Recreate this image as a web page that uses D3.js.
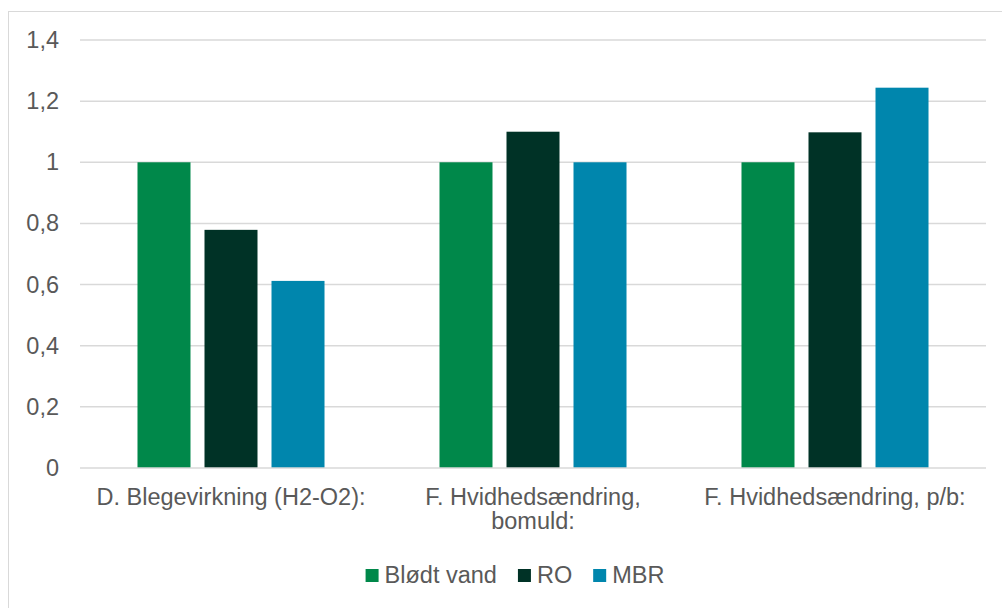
<!DOCTYPE html>
<html>
<head>
<meta charset="utf-8">
<script src="https://cdn.jsdelivr.net/npm/d3@7"></script>
<style>
  html, body { margin: 0; padding: 0; background: #fff; }
  svg { display: block; font-family: "Liberation Sans", Arial, sans-serif; }
</style>
</head>
<body>
<svg id="chart" width="1002" height="608"></svg>
<script>
// Category labels (each entry is an array of text lines)
const categories = [
  ["D. Blegevirkning (H2-O2):"],
  ["F. Hvidhedsændring,", "bomuld:"],
  ["F. Hvidhedsændring, p/b:"]
];
const seriesNames = ["Blødt vand", "RO", "MBR"];
const seriesColors = ["#00884A", "#003226", "#0086AD"];
const bloedtVand = [1, 1, 1];
const ro = [0.779, 1.1, 1.098];
const mbr = [0.612, 1, 1.244];
const yTicks = [0, 0.2, 0.4, 0.6, 0.8, 1, 1.2, 1.4];

const seriesValues = [bloedtVand, ro, mbr];

const svg = d3.select("#chart");
const W = 1002, H = 608;
const plot = { left: 80, right: 986, top: 40, bottom: 468 };
const textColor = "#595959";
const fontSize = "23.5px";

// Outer chart frame
svg.append("rect")
  .attr("x", 8.5).attr("y", 11.5)
  .attr("width", W + 10).attr("height", H + 10)
  .attr("fill", "#fff").attr("stroke", "#d9d9d9").attr("stroke-width", 1);

const x0 = d3.scaleBand()
  .domain(d3.range(categories.length))
  .range([plot.left, plot.right])
  .paddingInner(0).paddingOuter(0);

const x1 = d3.scaleBand()
  .domain(d3.range(seriesNames.length))
  .range([0, x0.bandwidth()])
  .paddingInner(0.209)
  .paddingOuter(0.858);

const y = d3.scaleLinear().domain([0, 1.4]).range([plot.bottom, plot.top]);
const fmt = v => d3.format("~g")(v).replace(".", ",");

// Horizontal gridlines
svg.append("g").selectAll("line")
  .data(yTicks.filter(t => t !== 0))
  .join("line")
  .attr("x1", plot.left).attr("x2", plot.right)
  .attr("y1", d => y(d)).attr("y2", d => y(d))
  .attr("stroke", "#d9d9d9").attr("stroke-width", 1.5);

// Y axis labels
const yAxis = svg.append("g")
  .attr("transform", `translate(${plot.left - 21},0)`)
  .call(d3.axisLeft(y).tickValues(yTicks).tickFormat(fmt).tickSize(0).tickPadding(0));
yAxis.select(".domain").remove();
yAxis.selectAll("text")
  .attr("fill", textColor)
  .style("font-size", fontSize)
  .style("font-family", "Liberation Sans, Arial, sans-serif");

// Bars
const groups = svg.append("g").selectAll("g")
  .data(categories.map((c, i) => i))
  .join("g")
  .attr("transform", i => `translate(${x0(i)},0)`);

groups.selectAll("rect")
  .data(i => seriesValues.map((s, k) => ({ k, v: s[i] })))
  .join("rect")
  .attr("x", d => x1(d.k))
  .attr("width", x1.bandwidth())
  .attr("y", d => y(d.v))
  .attr("height", d => y(0) - y(d.v))
  .attr("fill", d => seriesColors[d.k]);

// Baseline
svg.append("line")
  .attr("x1", plot.left).attr("x2", plot.right)
  .attr("y1", y(0)).attr("y2", y(0))
  .attr("stroke", "#d9d9d9").attr("stroke-width", 1.5);

// Category labels
const catLabels = svg.append("g").selectAll("text")
  .data(categories)
  .join("text")
  .attr("text-anchor", "middle")
  .attr("fill", textColor)
  .style("font-size", fontSize)
  .attr("x", (d, i) => x0(i) + x0.bandwidth() / 2)
  .attr("y", 505);
catLabels.selectAll("tspan")
  .data(d => d)
  .join("tspan")
  .attr("x", function () { return d3.select(this.parentNode).attr("x"); })
  .attr("dy", (d, j) => j === 0 ? 0 : 24)
  .text(d => d);

// Legend
const legendItems = seriesNames.map((name, k) => ({ name, color: seriesColors[k] }));
const legend = svg.append("g");
let lx = 0;
const legendGroups = legend.selectAll("g")
  .data(legendItems)
  .join("g");
legendGroups.append("rect")
  .attr("width", 13).attr("height", 13)
  .attr("y", -6.5)
  .attr("fill", d => d.color);
legendGroups.append("text")
  .attr("x", 19)
  .attr("y", 7.5)
  .attr("fill", textColor)
  .style("font-size", fontSize)
  .text(d => d.name);
// Lay out legend entries side by side and center them
const gap = 21;
legendGroups.each(function () {
  const g = d3.select(this);
  g.attr("transform", `translate(${lx},0)`);
  lx += this.getBBox().width + gap;
});
const totalW = lx - gap;
legend.attr("transform", `translate(${(367 + 663) / 2 - totalW / 2},575.5)`);
</script>
</body>
</html>
